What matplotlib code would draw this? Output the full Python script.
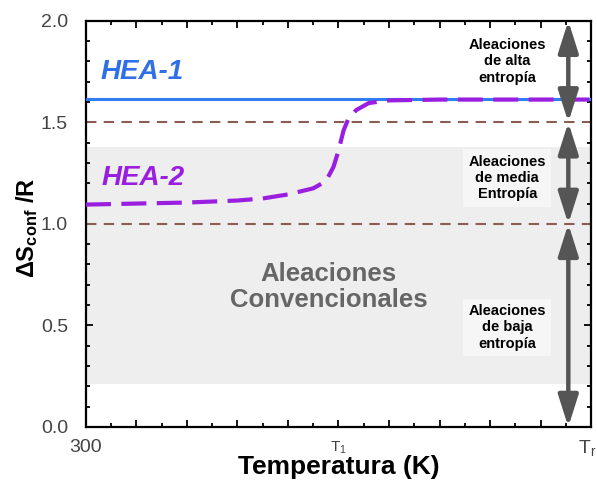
import matplotlib
matplotlib.use('Agg')
import matplotlib.pyplot as plt
from matplotlib.ticker import MultipleLocator, FormatStrFormatter
import numpy as np

plt.rcParams['font.family'] = ['Liberation Sans', 'DejaVu Sans']
plt.rcParams['mathtext.fontset'] = 'custom'
plt.rcParams['mathtext.rm'] = 'Liberation Sans'
plt.rcParams['mathtext.bf'] = 'Liberation Sans:bold'

# temperature axis in arbitrary units: 300 K at 0, T1 at 5, Tr at 10
x_ticks = [0, 5, 9.93]
x_ticklabels = ['300', r'T$_\mathrm{1}$', r'T$_\mathrm{r}$']

# HEA-1: constant configurational entropy (ln 5)
hea1_x = [0, 10]
hea1_y = [1.615, 1.615]

# HEA-2: rises around T1
hea2_x = [0, 1, 2, 3, 3.5, 4, 4.5, 4.75, 4.9, 5.0, 5.1, 5.2, 5.35, 5.6, 6.0, 7.0, 10.0]
hea2_y = [1.095, 1.10, 1.105, 1.115, 1.125, 1.145, 1.175, 1.21, 1.28, 1.36,
          1.46, 1.52, 1.56, 1.595, 1.608, 1.612, 1.612]

limits = [1.5, 1.0]
region_bounds = [(2.0, 1.5), (1.5, 1.0), (1.0, 0.0)]
region_labels = ['Aleaciones\nde alta\nentropía',
                 'Aleaciones\nde media\nEntropía',
                 'Aleaciones\nde baja\nentropía']
region_label_y = [1.80, 1.225, 0.49]
shade_band = (0.21, 1.38)

fig = plt.figure(figsize=(5.97, 4.83), dpi=100)
ax = fig.add_axes([0.144, 0.116, 0.846, 0.841])

ax.axhspan(shade_band[0], shade_band[1], color='#eeeeee', zorder=0, lw=0)

for y in limits:
    ax.axhline(y, color='#8a5c52', ls=(0, (5, 3.5)), lw=1.5, zorder=2)

ax.plot(hea1_x, hea1_y, color='#2f7df0', lw=2.2, zorder=3)
ax.plot(hea2_x, hea2_y, color='#9a1ee0', lw=3.0, ls=(0, (6, 2.5)), zorder=4)

ax.text(0.28, 1.75, 'HEA-1', color='#2f6fe8', fontsize=20, fontweight='bold',
        fontstyle='italic', va='center', ha='left')
ax.text(0.30, 1.225, 'HEA-2', color='#9a1ee0', fontsize=20, fontweight='bold',
        fontstyle='italic', va='center', ha='left')
ax.text(4.8, 0.69, 'Aleaciones\nConvencionales', color='#666666', fontsize=18.5,
        fontweight='bold', ha='center', va='center', linespacing=1.1)

arrow_x = 9.55
for (top, bottom), label, ly in zip(region_bounds, region_labels, region_label_y):
    ax.annotate('', xy=(arrow_x, top), xytext=(arrow_x, bottom),
                arrowprops=dict(arrowstyle='<|-|>,head_length=1.2,head_width=0.38',
                                color='#555555', lw=3.2, shrinkA=0, shrinkB=0,
                                mutation_scale=16),
                zorder=5, annotation_clip=False)
    ax.text(8.34, ly, label, fontsize=10.5, fontweight='bold', ha='center',
            va='center', linespacing=1.2,
            bbox=dict(facecolor='#f6f6f6' if ly < 1.5 else 'white',
                      edgecolor='none', pad=4))

ax.set_xlim(0, 10)
ax.set_ylim(0, 2.0)
ax.set_xticks(np.arange(0, 10.5, 1))
ax.set_xticklabels([''] * 11)
ax.xaxis.set_minor_locator(MultipleLocator(0.5))
ax.yaxis.set_major_locator(MultipleLocator(0.5))
ax.yaxis.set_minor_locator(MultipleLocator(0.1))
ax.yaxis.set_major_formatter(FormatStrFormatter('%.1f'))

ax.tick_params(which='both', direction='in', top=True, right=True,
               labelsize=14, labelcolor='#444444', width=1.3)
ax.tick_params(which='major', length=5)
ax.tick_params(which='minor', length=3)
ax.tick_params(axis='y', pad=13)

for xv, lab in zip(x_ticks, x_ticklabels):
    ax.text(xv, -0.03, lab, transform=ax.get_xaxis_transform(), ha='center',
            va='top', fontsize=14 if xv != 5 else 11, color='#444444')

for s in ax.spines.values():
    s.set_linewidth(1.6)

ax.set_xlabel('Temperatura (K)', fontsize=19, fontweight='bold')
ax.xaxis.set_label_coords(0.5, -0.098)
ax.xaxis.label.set_va('center')
ax.set_ylabel(r'$\mathbf{\Delta S_{conf}}$ /R', fontsize=17, fontweight='bold')
ax.yaxis.set_label_coords(-0.117, 0.49)
ax.yaxis.label.set_va('center')

fig.savefig('out.png', dpi=100)
